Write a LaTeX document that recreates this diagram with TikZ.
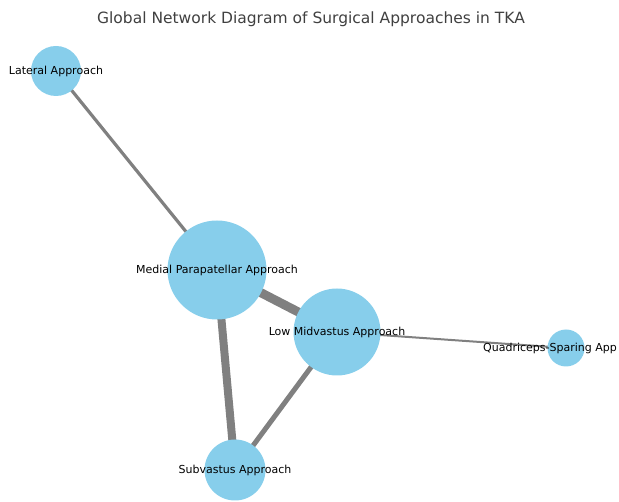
\documentclass[tikz,border=0pt]{standalone}
\usepackage{fontspec}
\setmainfont{DejaVu Sans}
\usetikzlibrary{backgrounds}
\definecolor{skyblue}{HTML}{87CEEB}
\definecolor{edgegray}{HTML}{808080}

\begin{document}
\begin{tikzpicture}[
    x=1pt, y=-1pt,
    approach/.style={circle, fill=skyblue, inner sep=0pt},
    tag/.style={inner sep=0pt, font=\fontsize{11}{13}\selectfont},
    link/.style={draw=edgegray},
    heading/.style={font=\fontsize{15.5}{18}\selectfont, text=black!75},
  ]
  \useasboundingbox (0,0) rectangle (619,502);

  \node[heading] (title) at (311,19) {Global Network Diagram of Surgical Approaches in TKA};

  % nodes
  \node[approach, minimum size=50pt] (lateral) at (56,71) {};
  \node[approach, minimum size=99pt] (medial) at (217,270) {};
  \node[approach, minimum size=87pt] (lowmid) at (337,332) {};
  \node[approach, minimum size=37pt] (quad) at (566,348) {};
  \node[approach, minimum size=61pt] (subvastus) at (235,470) {};

  % labels
  \node[tag] (lateral_txt) at (lateral) {Lateral Approach};
  \node[tag] (medial_txt) at (medial) {Medial Parapatellar Approach};
  \node[tag] (lowmid_txt) at (lowmid) {Low Midvastus Approach};
  \node[tag, anchor=west] (quad_txt) at (483,348) {Quadriceps-Sparing App};
  \node[tag] (subvastus_txt) at (subvastus) {Subvastus Approach};

  % edges
  \begin{scope}[on background layer]
    \draw[link, line width=3.2pt] (lateral.center) -- (medial.center);
    \draw[link, line width=9pt] (medial.center) -- (lowmid.center);
    \draw[link, line width=8pt] (medial.center) -- (subvastus.center);
    \draw[link, line width=5pt] (lowmid.center) -- (subvastus.center);
    \draw[link, line width=2pt] (lowmid.center) -- (quad.center);
  \end{scope}

\end{tikzpicture}
\end{document}
